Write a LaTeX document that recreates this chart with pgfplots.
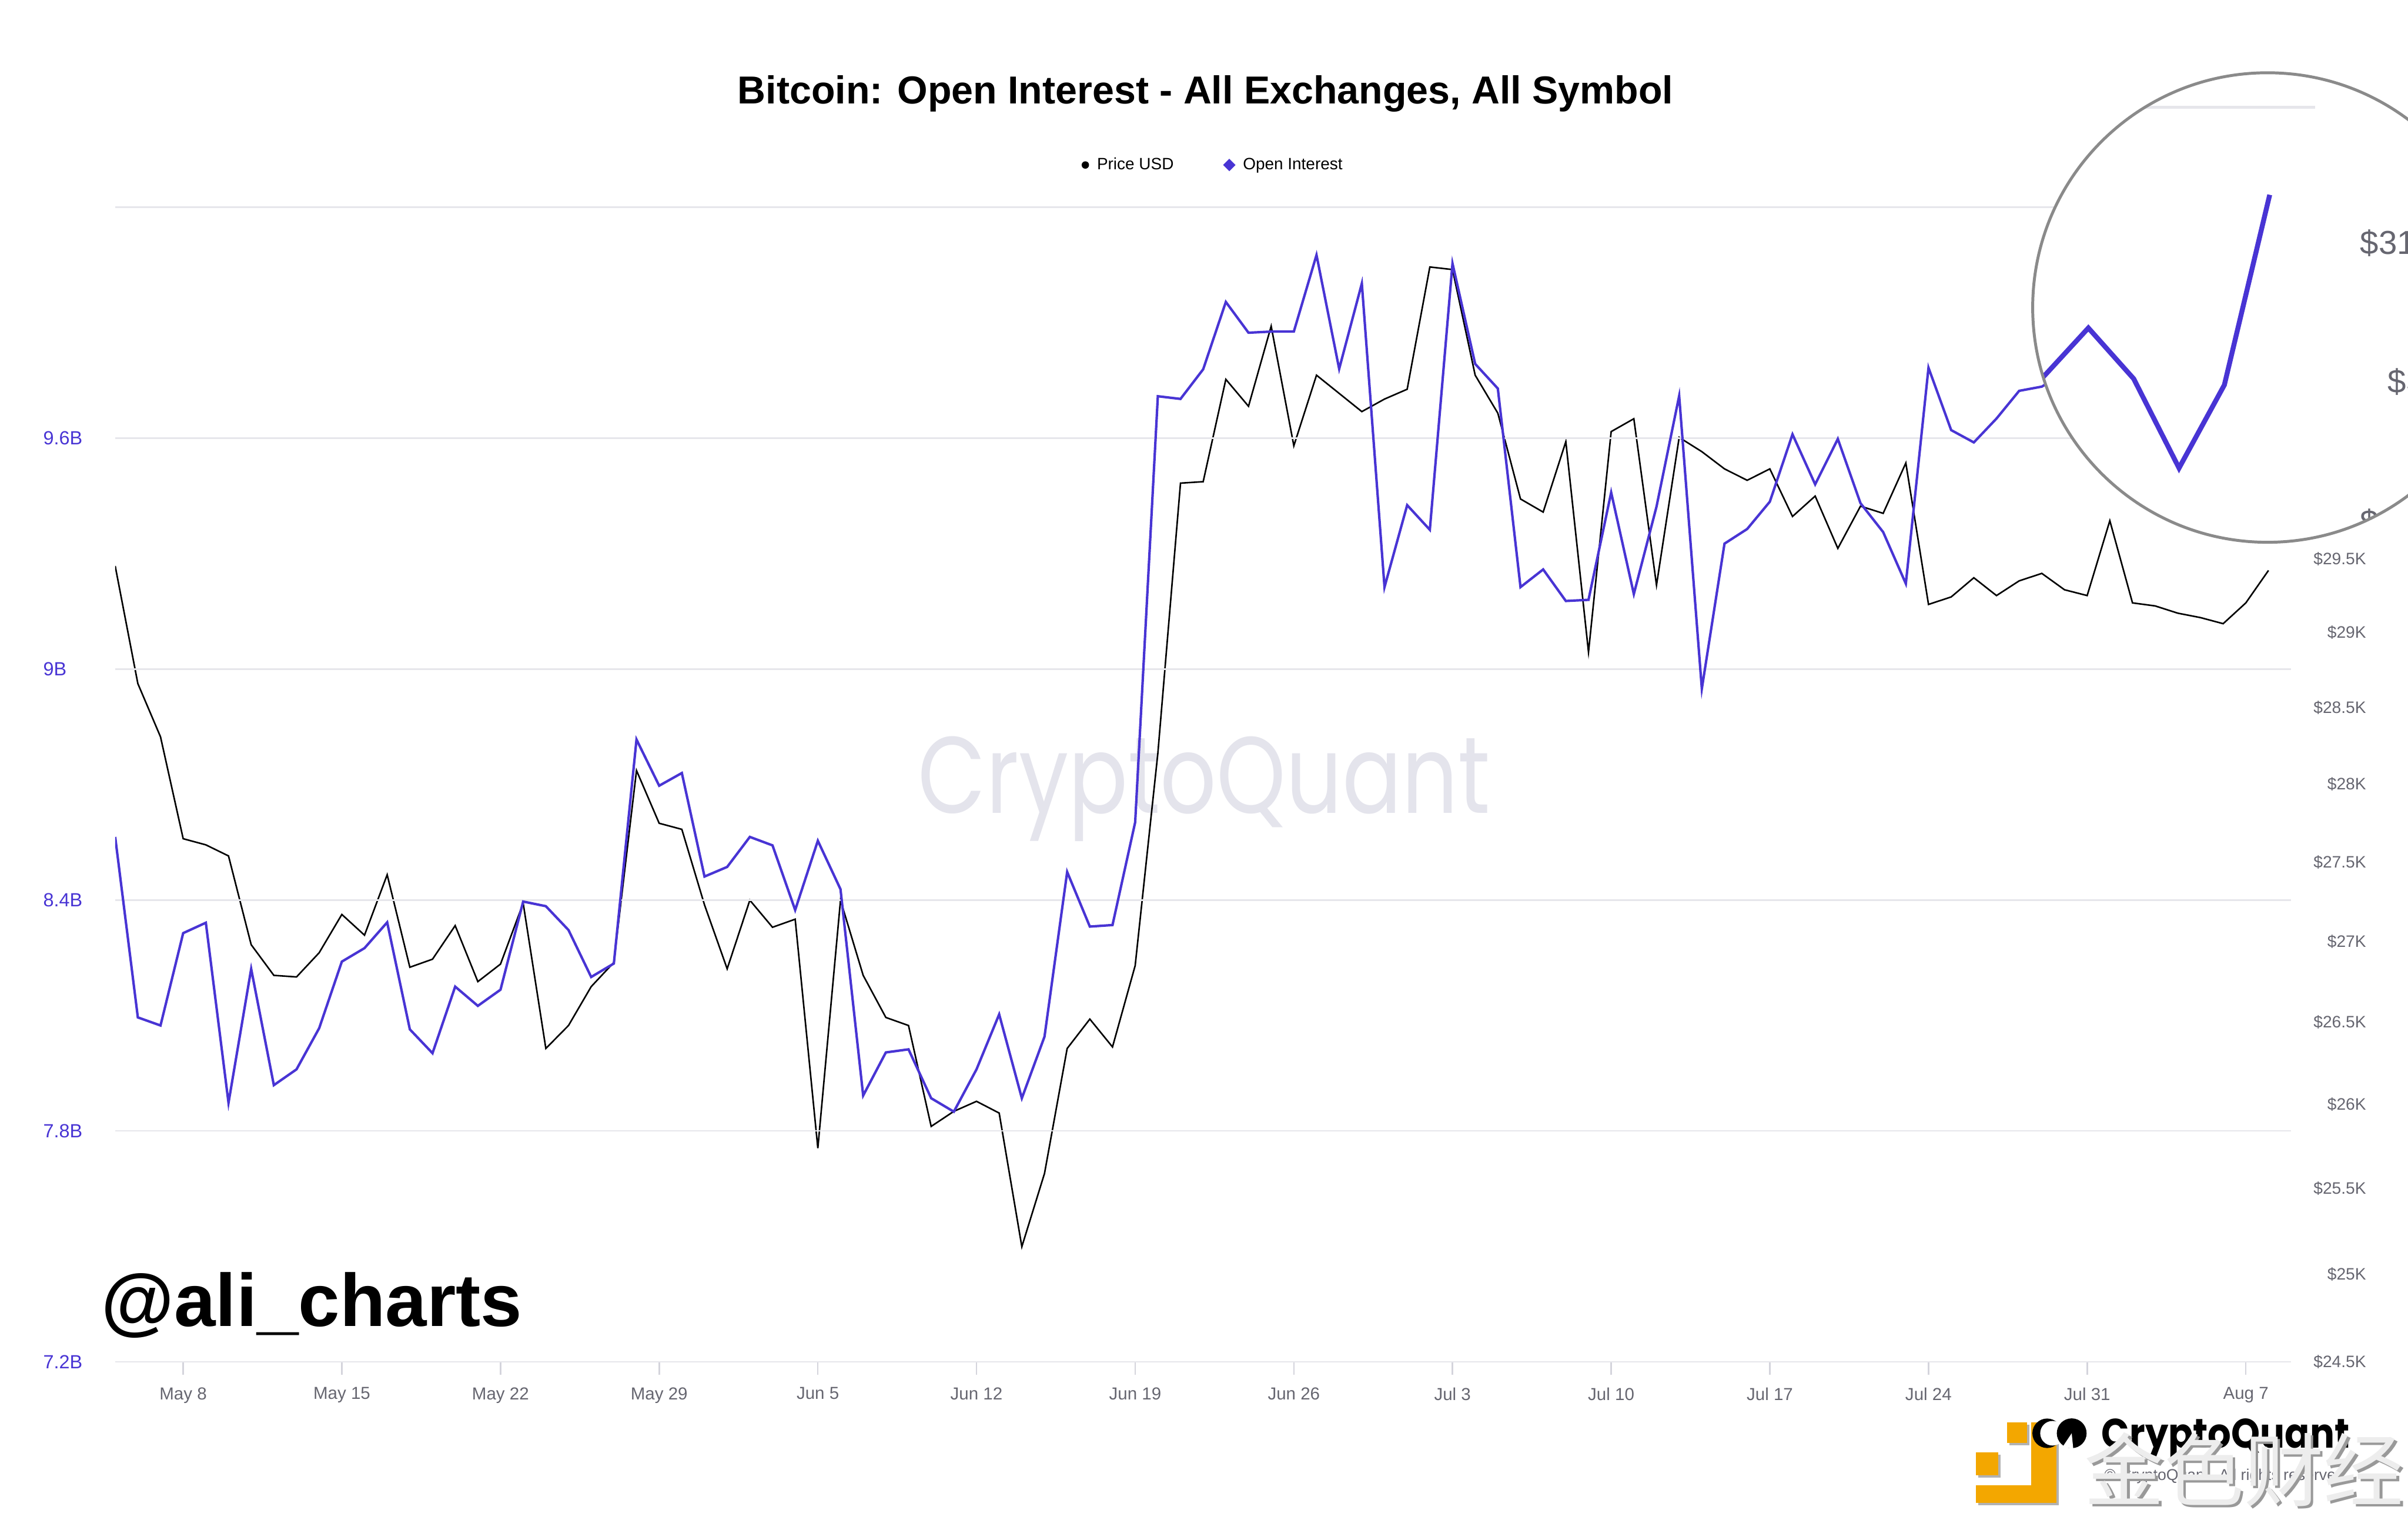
\documentclass[border=0pt]{standalone}
\usepackage{fontspec}
\setmainfont{Liberation Sans}
\newfontfamily\cjk{Noto Sans CJK SC}
\newfontfamily\wmfont{Poppins}
\usepackage{graphicx}
\usepackage{pgfplots}
\pgfplotsset{compat=1.18}
\usepackage{pgfplotstable}

\definecolor{oi}{RGB}{72,52,212}
\definecolor{gridc}{RGB}{230,230,235}
\definecolor{tickc}{RGB}{212,212,220}
\definecolor{lab}{RGB}{102,102,112}
\definecolor{wm}{RGB}{228,228,236}
\definecolor{ring}{RGB}{138,138,138}
\definecolor{jorange}{RGB}{243,167,0}

% day index (0 = May 5), BTC price in $K, open interest in $B
\pgfplotstableread{
i price oi
0 29.45 8.564
1 28.66 8.095
2 28.31 8.074
3 27.65 8.314
4 27.61 8.341
5 27.54 7.873
6 26.98 8.221
7 26.79 7.919
8 26.78 7.960
9 26.93 8.067
10 27.17 8.240
11 27.04 8.275
12 27.42 8.342
13 26.84 8.064
14 26.89 8.002
15 27.10 8.175
16 26.75 8.125
17 26.86 8.167
18 27.24 8.396
19 26.34 8.384
20 26.48 8.322
21 26.72 8.200
22 26.87 8.235
23 28.09 8.817
24 27.75 8.697
25 27.71 8.730
26 27.23 8.461
27 26.83 8.486
28 27.26 8.564
29 27.09 8.542
30 27.14 8.374
31 25.74 8.554
32 27.26 8.428
33 26.79 7.892
34 26.53 8.004
35 26.48 8.012
36 25.87 7.885
37 25.96 7.850
38 26.02 7.960
39 25.95 8.103
40 25.16 7.885
41 25.59 8.045
42 26.34 8.473
43 26.52 8.331
44 26.35 8.335
45 26.85 8.602
46 28.20 9.709
47 30.02 9.702
48 30.03 9.779
49 30.75 9.954
50 30.56 9.874
51 31.13 9.877
52 30.28 9.877
53 30.78 10.076
54 30.65 9.780
55 30.52 10.002
56 30.61 9.213
57 30.68 9.426
58 31.56 9.362
59 31.54 10.054
60 30.78 9.793
61 30.51 9.729
62 29.91 9.213
63 29.82 9.259
64 30.31 9.177
65 28.87 9.180
66 30.38 9.459
67 30.47 9.195
68 29.32 9.422
69 30.34 9.710
70 30.24 8.949
71 30.12 9.326
72 30.04 9.364
73 30.12 9.435
74 29.79 9.610
75 29.93 9.480
76 29.57 9.598
77 29.86 9.431
78 29.81 9.356
79 30.16 9.222
80 29.19 9.783
81 29.24 9.621
82 29.37 9.589
83 29.25 9.651
84 29.35 9.723
85 29.40 9.734
86 29.29 9.770
87 29.25 9.800
88 29.76 9.830
89 29.20 9.840
90 29.18 9.849
91 29.13 9.913
92 29.10 9.847
93 29.06 9.731
94 29.20 9.839
95 29.42 10.086
}\btc

\pgfplotsset{
  myax/.style={
    at={(75bp,101bp)}, anchor=south west,
    scale only axis, width=1417bp, height=752bp,
    xmin=0, xmax=96,
    /pgf/number format/assume math mode=true},
  % the same axis blown up 2x around the lens centre (1476.5bp,787.7bp)
  lensax/.style={
    at={(-1326.5bp,-585.7bp)}, anchor=south west,
    scale only axis, width=2834bp, height=1504bp,
    xmin=0, xmax=96, ymin=7.2, ymax=10.2,
    /pgf/number format/assume math mode=true}}

\begin{document}
\begin{tikzpicture}

% background watermark
\node[anchor=base, text=wm, inner sep=0pt] at (784.2bp,458.4bp)
  {\resizebox{372.5bp}{50bp}{\wmfont CryptoQuant}};

% price, right log axis
\begin{axis}[myax,
  ymode=log, ymin=24.5, ymax=32,
  hide x axis,
  axis y line*=right,
  y axis line style={draw=none},
  ytick={24.5,25,25.5,26,26.5,27,27.5,28,28.5,29,29.5,30,30.5,31,31.5},
  yticklabels={\$24.5K,\$25K,\$25.5K,\$26K,\$26.5K,\$27K,\$27.5K,\$28K,\$28.5K,\$29K,\$29.5K,\$30K,\$30.5K,\$31K,\$31.5K},
  ytick style={draw=none}, major tick length=0pt,
  yticklabel style={anchor=east, inner sep=0pt, xshift=49bp,
    font=\fontsize{10.8bp}{12bp}\selectfont, text=lab},
]
\addplot[black, line width=1bp] table[x=i, y=price] {\btc};
\end{axis}

% open interest, left axis
\begin{axis}[myax,
  ymin=7.2, ymax=10.2,
  axis x line*=bottom, axis y line*=left,
  x axis line style={draw=gridc, line width=1bp},
  y axis line style={draw=none},
  ymajorgrids, grid style={draw=gridc, line width=1bp},
  ytick={7.2,7.8,8.4,9.0,9.6,10.2},
  yticklabels={7.2B,7.8B,8.4B,9B,9.6B,{}},
  ytick style={draw=none},
  yticklabel style={anchor=west, inner sep=0pt, xshift=-38.6bp,
    font=\fontsize{12.4bp}{14bp}\selectfont, text=oi},
  xtick={3,10,17,24,31,38,45,52,59,66,73,80,87,94},
  xticklabels={May 8,May 15,May 22,May 29,Jun 5,Jun 12,Jun 19,Jun 26,Jul 3,Jul 10,Jul 17,Jul 24,Jul 31,Aug 7},
  tick align=outside, major tick length=8.4bp,
  xtick style={draw=tickc, line width=1bp},
  xticklabel style={anchor=north, inner sep=0pt, yshift=-8.1bp,
    font=\fontsize{11.3bp}{13bp}\selectfont, text=lab},
  legend columns=2,
  legend cell align=left,
  legend style={at={(0.5041,1.0366)}, anchor=center, draw=none, fill=none,
    font=\fontsize{10.7bp}{12bp}\selectfont, inner sep=0pt,
    nodes={inner xsep=0bp, inner ysep=0bp},
    /tikz/every odd column/.append style={column sep=5.2bp},
    /tikz/every even column/.append style={column sep=32.5bp}},
]
\addlegendimage{legend image code/.code={\fill[black] (0bp,0bp) circle (2.2bp);}}
\addlegendentry{Price USD}
\addplot[oi, line width=1.6bp,
  legend image code/.code={\fill[oi] (0bp,2.9bp) -- (2.9bp,0bp) -- (0bp,-2.9bp) -- (-2.9bp,0bp) -- cycle;}]
  table[x=i, y=oi] {\btc};
\addlegendentry{Open Interest}
\end{axis}

% magnifier circle over the last days
\fill[white] (1476.5bp,787.7bp) circle (152.9bp);
\begin{scope}
\clip (1476.5bp,787.7bp) circle (152.9bp);
% price labels of the right axis, placed at their log positions in OI units
\begin{axis}[lensax,
  hide x axis,
  axis y line*=right,
  y axis line style={draw=none},
  ytick={9.6607,9.8433,10.0231},
  yticklabels={\$30.5K,\$31K,\$31.5K},
  ytick style={draw=none}, major tick length=0pt,
  yticklabel style={anchor=east, inner sep=0pt, xshift=98bp,
    font=\fontsize{21.6bp}{24bp}\selectfont, text=lab},
]
\end{axis}
\begin{axis}[lensax,
  axis line style={draw=none},
  xtick=\empty,
  ymajorgrids, grid style={draw=gridc, line width=2bp},
  ytick={7.2,7.8,8.4,9.0,9.6,10.2},
  yticklabels={},
  ytick style={draw=none},
]
\addplot[oi, line width=3.2bp] table[x=i, y=oi] {\btc};
\end{axis}
\end{scope}
\draw[ring, line width=1.9bp] (1476.5bp,787.7bp) circle (152.9bp);

% title and signature
\node[anchor=base, inner sep=0pt, font=\bfseries\fontsize{25.4bp}{30bp}\selectfont]
  at (785bp,920.4bp) {Bitcoin: Open Interest - All Exchanges, All Symbol};
\node[anchor=base west, inner sep=0pt, font=\bfseries\fontsize{48.5bp}{55bp}\selectfont]
  at (66bp,124bp) {@ali\_charts};

% bottom right logos
\node[anchor=base west, inner sep=0pt] at (1368.3bp,45bp)
  {\resizebox{161.3bp}{19.1bp}{\wmfont\bfseries CryptoQuant}};
\node[anchor=base west, inner sep=0pt, text=lab, font=\fontsize{10.2bp}{12bp}\selectfont]
  at (1370bp,24bp) {\textcopyright{} CryptoQuant. All rights reserved.};
\fill[black!30] (1308.5bp,46.6bp) rectangle (1321.5bp,60bp);
\fill[black!30] (1288.3bp,25.5bp) rectangle (1302.8bp,40.6bp);
\fill[black!30] (1324.2bp,7.7bp) rectangle (1340.7bp,60bp);
\fill[black!30] (1288.3bp,7.7bp) rectangle (1340.7bp,19.2bp);
\fill[jorange] (1307bp,48.1bp) rectangle (1320bp,61.5bp);
\fill[jorange] (1286.8bp,27bp) rectangle (1301.3bp,42.1bp);
\fill[jorange] (1322.7bp,9.2bp) rectangle (1339.2bp,61.5bp);
\fill[jorange] (1286.8bp,9.2bp) rectangle (1339.2bp,20.7bp);
\fill[black] (1333bp,54.5bp) circle (9.6bp);
\fill[white] (1336.5bp,54.5bp) circle (8bp);
\fill[black] (1349bp,54.5bp) circle (9.7bp);
\fill[white] (1349bp,54.5bp) -- (1343bp,45.5bp) -- (1350bp,44.5bp) -- cycle;
\node[anchor=base west, inner sep=0pt, text=black!40, font=\cjk\fontsize{52bp}{56bp}\selectfont]
  at (1358.8bp,9.2bp) {金色财经};
\node[anchor=base west, inner sep=0pt, text=black!7, font=\cjk\fontsize{52bp}{56bp}\selectfont]
  at (1357bp,11bp) {金色财经};

\pgfresetboundingbox
\path[use as bounding box] (0bp,0bp) rectangle (1568bp,988bp);
\end{tikzpicture}
\end{document}
